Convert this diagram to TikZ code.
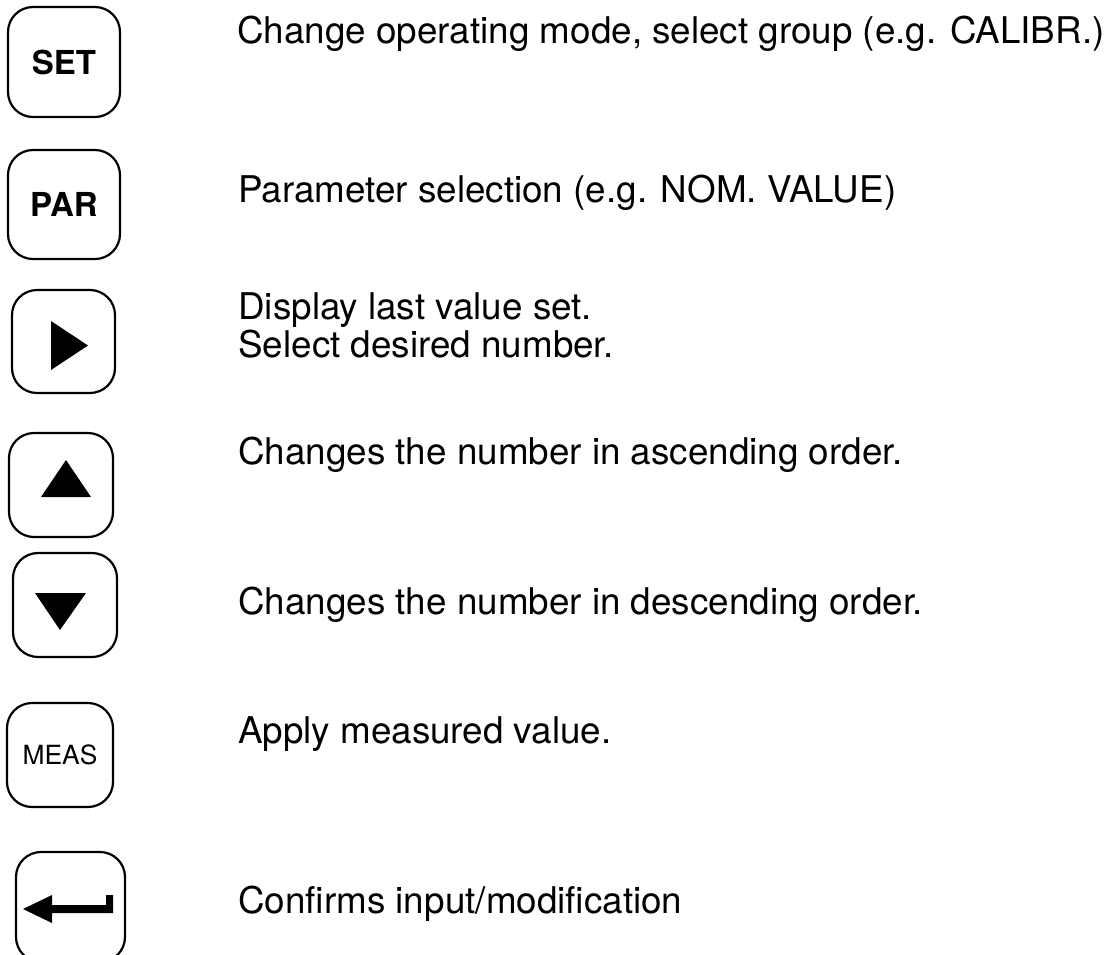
\documentclass[tikz,border=0pt]{standalone}
\usepackage{fontspec}
\setmainfont{TeX Gyre Heros}
\usepackage{tikz}
\usetikzlibrary{positioning}

\begin{document}
\begin{tikzpicture}[
    x=0.5pt, y=-0.5pt,
    key/.style={draw, line width=1.1pt, rounded corners=12.5pt, minimum width=53pt, minimum height=53pt, inner sep=0pt},
    keylabel/.style={font=\bfseries\fontsize{16.5}{16.5}\selectfont},
    desc/.style={anchor=base west, inner sep=0pt, align=left, font=\fontsize{18.4}{17}\selectfont}
]
\useasboundingbox (0,0) rectangle (1116,955);
\begin{scope}
\clip (0,0) rectangle (1116,955);
\node[key, keylabel, minimum width=56pt, minimum height=55pt] (set) at (64,62) {SET};
\node[key, keylabel, minimum width=56pt, minimum height=54.5pt] (par) at (64,204.5) {PAR};
\node[key, minimum width=51.5pt, minimum height=51.5pt] (right) at (63.5,341.5) {};
\node[key, minimum width=52pt, minimum height=52pt] (up) at (61,485) {};
\node[key, minimum width=52pt, minimum height=52pt] (down) at (65,605) {};
\node[key, minimum width=53pt, minimum height=52pt, font=\fontsize{13.2}{13.2}\selectfont] (meas) at (60,755) {MEAS};
\node[key, minimum width=54.5pt, minimum height=55pt] (enter) at (70.5,907) {};
\end{scope}
% key symbols
\fill (51,321) -- (88,345.5) -- (51,370) -- cycle;
\fill (66,460) -- (91,497) -- (41,497) -- cycle;
\fill (35,593) -- (86,593) -- (60,630) -- cycle;
\fill (23,909) -- (52,895) -- (52,905) -- (106,905) -- (106,895) -- (113,895)
      -- (113,913) -- (52,913) -- (52,923) -- cycle;
% descriptions
\node[desc] (setText) at (237,43) {Change operating mode, select group (e.g. CALIBR.)};
\node[desc] (parText) at (238,202) {Parameter selection (e.g. NOM. VALUE)};
\node[desc] (rightText) at (238,357) {Display last value set.\\Select desired number.};
\node[desc] (upText) at (238,464) {Changes the number in ascending order.};
\node[desc] (downText) at (238,614) {Changes the number in descending order.};
\node[desc] (measText) at (238,743) {Apply measured value.};
\node[desc] (enterText) at (238,913) {Confirms input/modification};
\end{tikzpicture}
\end{document}
